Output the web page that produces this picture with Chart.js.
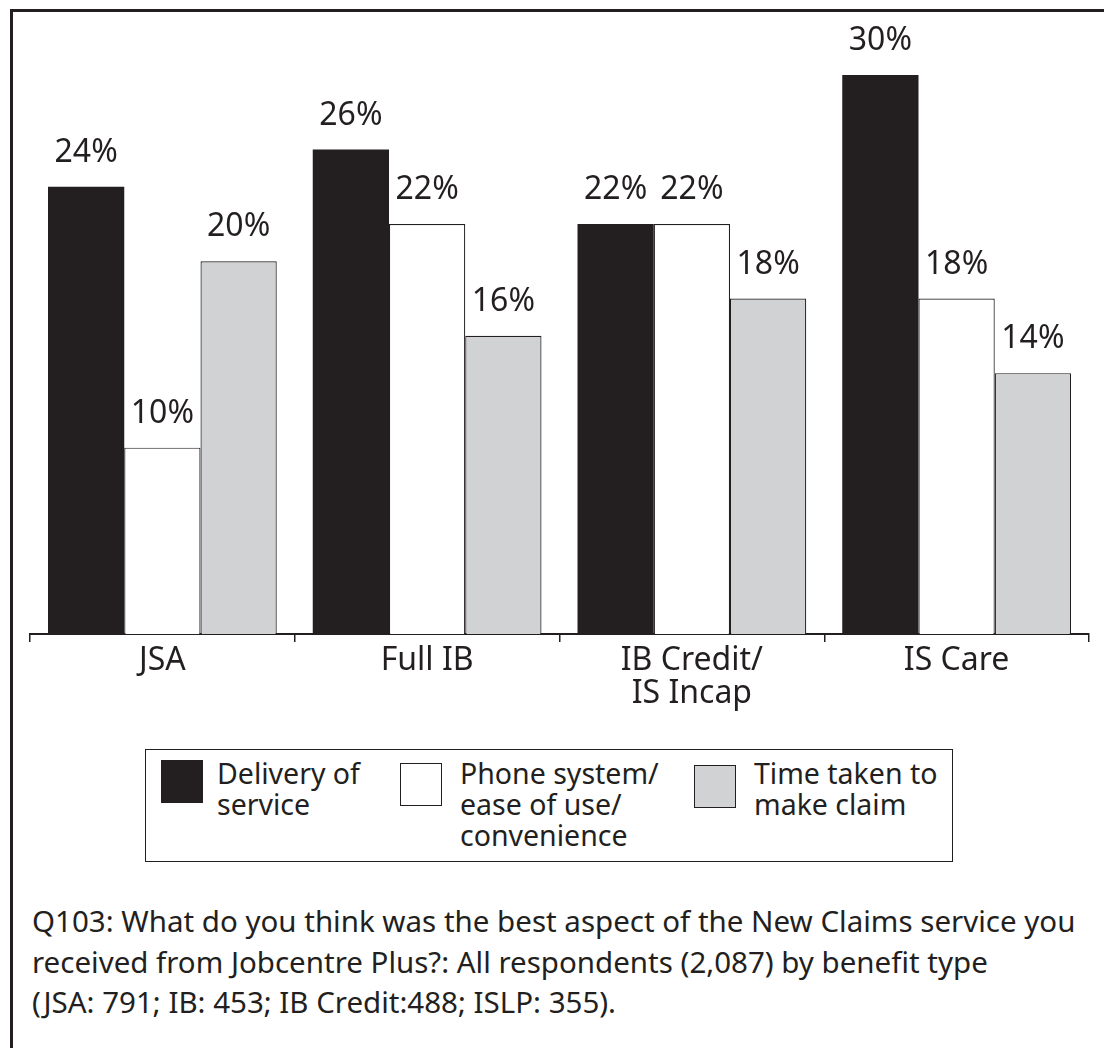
<!DOCTYPE html>
<html>
<head>
<meta charset="utf-8">
<script src="https://cdn.jsdelivr.net/npm/chart.js@4/dist/chart.umd.min.js"></script>
<style>
    body { margin: 0; background: #fff; font-family: "Noto Sans", sans-serif; color: #231f20; }
    #page { position: relative; width: 1104px; height: 1048px; overflow: hidden; }
    #frame { position: absolute; left: 10px; top: 9px; right: -10px; bottom: -10px; border-left: 3px solid #231f20; border-top: 3px solid #231f20; }
    #chartBox { position: absolute; left: 0; top: 0; width: 1104px; height: 740px; }
    #legend { position: absolute; left: 145px; top: 749px; width: 806px; height: 111px; border: 1.5px solid #231f20; }
    .swatch { position: absolute; width: 40px; height: 41px; border: 1px solid #231f20; }
    .ltext { position: absolute; font-size: 28.5px; line-height: 31px; white-space: nowrap; }
    #caption { position: absolute; left: 32px; top: 901px; font-size: 29.5px; line-height: 40.5px; white-space: nowrap; }
</style>
</head>
<body>
<div id="page">
    <div id="frame"></div>
    <div id="chartBox"><canvas id="chart" width="1104" height="740"></canvas></div>
    <div id="legend"></div>
    <div id="caption"></div>
</div>
<script>
// benefit types along the axis
const categories = [ ['JSA'], ['Full IB'], ['IB Credit/', 'IS Incap'], ['IS Care'] ];

// series names (legend, broken as in the source)
const seriesNames = [
    ['Delivery of', 'service'],
    ['Phone system/', 'ease of use/', 'convenience'],
    ['Time taken to', 'make claim']
];

// percentages per benefit type
const deliveryValues = [24, 26, 22, 30];
const phoneValues    = [10, 22, 22, 18];
const timeValues     = [20, 16, 18, 14];

const seriesColors = ['#231f20', '#ffffff', '#d1d2d4'];

const captionLines = [
    'Q103: What do you think was the best aspect of the New Claims service you',
    'received from Jobcentre Plus?: All respondents (2,087) by benefit type',
    '(JSA: 791; IB: 453; IB Credit:488; ISLP: 355).'
];

const ink = '#231f20';
const labelFont = '32px "Noto Sans"';

// writes the value on top of every bar
const valueLabels = {
    id: 'valueLabels',
    afterDatasetsDraw( chart )
    {
        let ctx = chart.ctx;
        ctx.save();
        ctx.font = labelFont;
        ctx.fillStyle = ink;
        ctx.textAlign = 'center';
        ctx.textBaseline = 'alphabetic';
        chart.data.datasets.forEach( (ds, i) =>
        {
            chart.getDatasetMeta(i).data.forEach( (bar, j) =>
            {
                ctx.fillText(ds.data[j] + '%', bar.x, bar.y - 25);
            } );
        } );
        ctx.restore();
    }
};

let allValues = [deliveryValues, phoneValues, timeValues];
let datasets = allValues.map( (vals, i) =>
{
    return {
        label: seriesNames[i].join(' '),
        data: vals,
        backgroundColor: seriesColors[i],
        borderColor: ink,
        borderWidth: (i == 0) ? 0 : 1.2,
        borderSkipped: 'bottom',
        categoryPercentage: 0.864,
        barPercentage: 1.0
    };
} );

new Chart(document.getElementById('chart'),
    {
        type: 'bar',
        data: { labels: categories, datasets: datasets },
        plugins: [valueLabels],
        options: {
            responsive: false,
            animation: false,
            events: [],
            layout: { padding: { left: 30, right: 15, top: 75, bottom: 0 } },
            plugins: { legend: { display: false }, tooltip: { enabled: false } },
            scales: {
                x: {
                    grid: { display: true, offset: true, drawOnChartArea: false, drawTicks: true, tickLength: 8, tickColor: ink, lineWidth: 1.5 },
                    border: { display: true, color: ink, width: 2 },
                    ticks: { color: ink, font: { family: 'Noto Sans', size: 32, lineHeight: 1.03 }, padding: 2, maxRotation: 0, autoSkip: false },
                    afterFit: function(scale) { scale.height = 106; }
                },
                y: {
                    display: false,
                    min: 0,
                    max: 30
                }
            }
        }
    });

// legend as a boxed row of swatches
let legend = document.getElementById('legend');
const swatchLeft = [15, 254, 548];
const textLeft   = [71, 314, 608];
const swatchTop  = [10, 13, 15];
seriesNames.forEach( (name, i) =>
{
    let sw = document.createElement('div');
    sw.className = 'swatch';
    sw.style.left = swatchLeft[i] + 'px';
    sw.style.top = swatchTop[i] + 'px';
    sw.style.background = seriesColors[i];
    legend.appendChild(sw);

    let tx = document.createElement('div');
    tx.className = 'ltext';
    tx.style.left = textLeft[i] + 'px';
    tx.style.top = '8px';
    tx.innerHTML = name.join('<br>');
    legend.appendChild(tx);
} );

document.getElementById('caption').innerHTML = captionLines.join('<br>');
</script>
</body>
</html>
